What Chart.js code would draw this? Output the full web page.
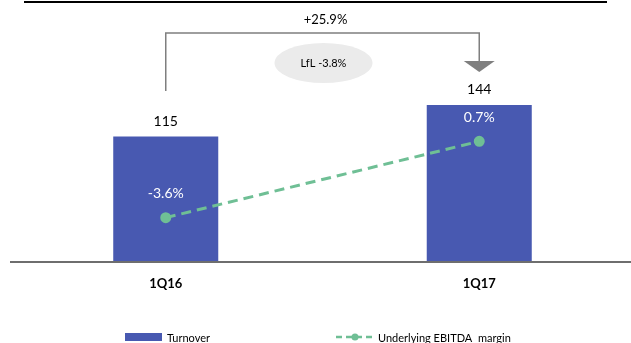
<!DOCTYPE html>
<html>
<head>
<meta charset="utf-8">
<script src="https://cdn.jsdelivr.net/npm/chart.js@4"></script>
<style>
  html, body { margin: 0; padding: 0; overflow: hidden; background: #fff; }
  canvas { display: block; }
</style>
</head>
<body>
<canvas id="turnover_chart" width="636" height="343"></canvas>
<script>
"use strict";

const categories = ["1Q16", "1Q17"];
const turnover = [115, 144];
const ebitdaMargin = [-3.6, 0.7];
const growthLabel = "+25.9%";
const lflLabel = "LfL -3.8%";
const legendLabels = ["Turnover", "Underlying EBITDA  margin"];

const BLUE = "#4859b1";
const GREEN = "#6fbf95";
const GREY = "#7f7f7f";
const FONT = "Lato, 'Open Sans', sans-serif";

// labels, bracket arrow, rules and legend drawn on top of the chart
const overlay = {
  id: "overlay",
  afterDatasetsDraw(chart) {
    const c = chart.ctx;
    const area = chart.chartArea;
    const bars = chart.getDatasetMeta(0).data;
    const pts = chart.getDatasetMeta(1).data;
    c.save();

    // top rule
    c.strokeStyle = "#000";
    c.lineWidth = 2;
    c.beginPath();
    c.moveTo(24, 2);
    c.lineTo(607, 2);
    c.stroke();

    // baseline
    c.strokeStyle = "#6e6e6e";
    c.lineWidth = 2;
    c.beginPath();
    c.moveTo(10, area.bottom);
    c.lineTo(631, area.bottom);
    c.stroke();

    // value labels
    c.textAlign = "center";
    c.textBaseline = "middle";
    c.font = "14px " + FONT;
    c.fillStyle = "#000";
    bars.forEach((b, i) => {
      c.fillText(String(turnover[i]), b.x, b.y - 15);
    });
    c.fillStyle = "#fff";
    pts.forEach((p, i) => {
      c.fillText(ebitdaMargin[i].toFixed(1) + "%", p.x, p.y - 24);
    });

    // growth bracket
    const x1 = bars[0].x, x2 = bars[1].x;
    const yTop = 33;
    c.strokeStyle = GREY;
    c.lineWidth = 1.5;
    c.beginPath();
    c.moveTo(x1, 91);
    c.lineTo(x1, yTop);
    c.lineTo(x2, yTop);
    c.lineTo(x2, 62);
    c.stroke();
    c.fillStyle = GREY;
    c.beginPath();
    c.moveTo(x2 - 15.5, 61);
    c.lineTo(x2 + 15.5, 61);
    c.lineTo(x2, 72);
    c.closePath();
    c.fill();

    const mid = (x1 + x2) / 2;
    c.fillStyle = "#000";
    c.font = "13px " + FONT;
    c.fillText(growthLabel, mid + 3, 20);

    c.fillStyle = "#ebebeb";
    c.beginPath();
    c.ellipse(mid + 1, 63, 49, 20, 0, 0, Math.PI * 2);
    c.fill();
    c.fillStyle = "#000";
    c.font = "11px " + FONT;
    c.fillText(lflLabel, mid + 1, 63);

    // legend
    const ly = 337;
    c.fillStyle = BLUE;
    c.fillRect(125, ly - 4, 37, 8);
    c.strokeStyle = GREEN;
    c.lineWidth = 2.5;
    c.setLineDash([6, 4]);
    c.beginPath();
    c.moveTo(336, ly);
    c.lineTo(374, ly);
    c.stroke();
    c.setLineDash([]);
    c.fillStyle = GREEN;
    c.beginPath();
    c.arc(355, ly, 3.5, 0, Math.PI * 2);
    c.fill();
    c.fillStyle = "#000";
    c.font = "11px " + FONT;
    c.textAlign = "left";
    c.fillText(legendLabels[0], 167, ly + 1);
    c.fillText(legendLabels[1], 378, ly + 1);

    c.restore();
  }
};

new Chart(document.getElementById("turnover_chart"), {
  data: {
    labels: categories,
    datasets: [{
      type: "bar",
      label: legendLabels[0],
      data: turnover,
      backgroundColor: BLUE,
      yAxisID: "y",
      barPercentage: 0.335,
      categoryPercentage: 1,
      order: 2
    }, {
      type: "line",
      label: legendLabels[1],
      data: ebitdaMargin,
      borderColor: GREEN,
      backgroundColor: GREEN,
      borderWidth: 3,
      borderDash: [10, 6],
      pointRadius: 4,
      pointHoverRadius: 4,
      yAxisID: "y2",
      order: 1
    }]
  },
  options: {
    responsive: false,
    animation: false,
    layout: { autoPadding: false, padding: { left: 9, right: 0, top: 10 } },
    scales: {
      x: {
        grid: { display: false, drawTicks: false },
        border: { display: false },
        ticks: {
          color: "#000",
          font: { family: FONT, size: 13, weight: "bold" },
          padding: 14
        },
        afterFit(axis) { axis.height = 81; }
      },
      y: {
        display: false,
        min: 0,
        max: 231
      },
      y2: {
        display: false,
        min: -6.1,
        max: 8.1
      }
    },
    plugins: {
      legend: { display: false },
      tooltip: { enabled: false }
    }
  },
  plugins: [overlay]
});
</script>
</body>
</html>
